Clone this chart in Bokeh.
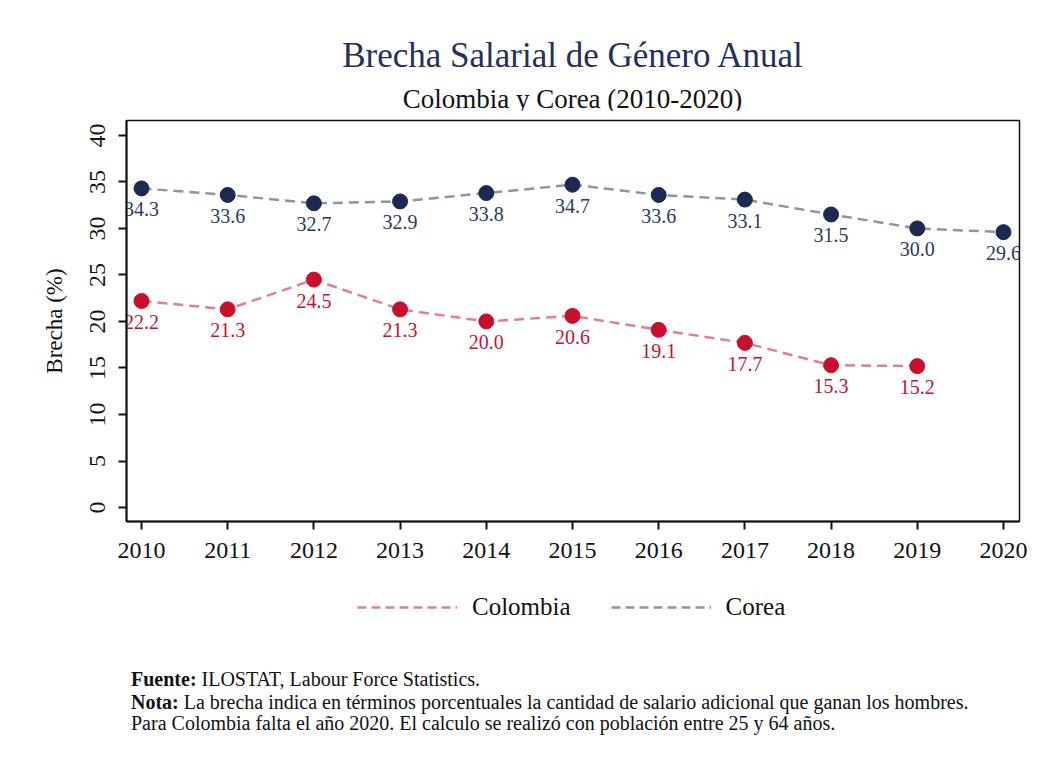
from bokeh.plotting import figure
from bokeh.models import Range1d, FixedTicker, Legend, LegendItem, ColumnDataSource, Div
from bokeh.layouts import column
from bokeh.embed import file_html
from bokeh.resources import INLINE
from bokeh.core.properties import value

# ---- data ----
years_col = [2010, 2011, 2012, 2013, 2014, 2015, 2016, 2017, 2018, 2019]
colombia = [22.2, 21.3, 24.5, 21.3, 20.0, 20.6, 19.1, 17.7, 15.3, 15.2]
years_kor = [2010, 2011, 2012, 2013, 2014, 2015, 2016, 2017, 2018, 2019, 2020]
corea = [34.3, 33.6, 32.7, 32.9, 33.8, 34.7, 33.6, 33.1, 31.5, 30.0, 29.6]
y_ticks = [0, 5, 10, 15, 20, 25, 30, 35, 40]
x_ticks = years_kor
title = "Brecha Salarial de Género Anual"
subtitle = "Colombia y Corea (2010-2020)"
fuente = "ILOSTAT, Labour Force Statistics."
nota1 = "La brecha indica en términos porcentuales la cantidad de salario adicional que ganan los hombres."
nota2 = "Para Colombia falta el año 2020. El calculo se realizó con población entre 25 y 64 años."

FONT = "Liberation Serif"
COL_MK = "#c8102e"
COL_LN = "#e27d98"
KOR_MK = "#1c2a52"
KOR_LN = "#8d94a9"
KOR_TX = "#2b3960"
DASH = "10 6"

W = 1030
HEAD_H = 110
BL, BR, BT, BB = 126, 11, 10, 56
FH = 401
H = BT + FH + BB
LEG_H = 60
X0, X1 = 2009.826, 2020.186
Y0, Y1 = -1.5, 41.6

# ---- header ----
head_html = f"""
<div style="position:relative;width:{W}px;height:{HEAD_H}px;font-family:'{FONT}';">
  <div style="position:absolute;left:{BL}px;width:{W-BL-BR}px;top:35px;line-height:42px;
              text-align:center;font-size:35px;color:#25305a;white-space:nowrap;">{title}</div>
  <div style="position:absolute;left:{BL}px;width:{W-BL-BR}px;top:83px;line-height:32px;
              text-align:center;font-size:27px;color:#111111;white-space:nowrap;">{subtitle}</div>
</div>"""
head = Div(text=head_html, width=W, height=HEAD_H, margin=(0, 0, 0, 0))

# ---- main figure ----
p = figure(width=W, height=H, output_backend="svg", toolbar_location=None,
           x_range=Range1d(X0, X1), y_range=Range1d(Y0, Y1),
           min_border_left=BL, min_border_right=BR, min_border_top=BT, min_border_bottom=BB,
           margin=(0, 0, 0, 0))
p.background_fill_color = "white"
p.border_fill_color = "white"
p.outline_line_color = "#111111"
p.outline_line_width = 1.5
p.xgrid.visible = False
p.ygrid.visible = False

src_col = ColumnDataSource(dict(x=years_col, y=colombia, t=[f"{v:.1f}" for v in colombia]))
src_kor = ColumnDataSource(dict(x=years_kor, y=corea, t=[f"{v:.1f}" for v in corea]))

p.line("x", "y", source=src_col, line_color=COL_LN, line_width=2.5, line_dash=DASH)
p.line("x", "y", source=src_kor, line_color=KOR_LN, line_width=2.5, line_dash=DASH)
p.scatter("x", "y", source=src_col, size=15, fill_color=COL_MK, line_color=COL_MK)
p.scatter("x", "y", source=src_kor, size=15, fill_color=KOR_MK, line_color=KOR_MK)

p.text("x", "y", text="t", source=src_col, text_font=value(FONT), text_font_size="20px",
       text_color=COL_MK, text_align="center", text_baseline="top", y_offset=14)
p.text("x", "y", text="t", source=src_kor, text_font=value(FONT), text_font_size="20px",
       text_color=KOR_TX, text_align="center", text_baseline="top", y_offset=14)

for ax in (p.xaxis[0], p.yaxis[0]):
    ax.axis_line_width = 2
    ax.axis_line_color = "#111111"
    ax.major_tick_line_width = 2
    ax.major_tick_line_color = "#111111"
    ax.major_tick_out = 8
    ax.major_tick_in = 0
    ax.minor_tick_line_color = None
    ax.major_label_text_font = FONT
    ax.major_label_text_font_size = "24px"
    ax.major_label_text_color = "#111111"
    ax.major_label_standoff = 13

p.xaxis.ticker = FixedTicker(ticks=x_ticks)
p.yaxis.ticker = FixedTicker(ticks=y_ticks)
p.yaxis.major_label_orientation = "vertical"
p.yaxis.axis_label = "Brecha (%)"
p.yaxis.axis_label_text_font = FONT
p.yaxis.axis_label_text_font_style = "normal"
p.yaxis.axis_label_text_font_size = "23px"
p.yaxis.axis_label_text_color = "#111111"
p.yaxis.axis_label_standoff = 21

# ---- legend figure (frame is aligned with the main frame by the column layout) ----
lg = figure(width=W, height=LEG_H, output_backend="svg", toolbar_location=None,
            x_range=Range1d(0, 1), y_range=Range1d(0, 1),
            min_border_left=BL, min_border_right=BR, min_border_top=0, min_border_bottom=0,
            margin=(0, 0, 0, 0))
lg.axis.visible = False
lg.grid.visible = False
lg.outline_line_color = None
dummy = ColumnDataSource(dict(x=[-5, -4], y=[-5, -4]))
l_col = lg.line("x", "y", source=dummy, line_color=COL_LN, line_width=2.5, line_dash="9 5")
l_kor = lg.line("x", "y", source=dummy, line_color=KOR_LN, line_width=2.5, line_dash="9 5")
legend = Legend(items=[LegendItem(label="Colombia", renderers=[l_col]),
                       LegendItem(label="Corea", renderers=[l_kor])],
                location=(357 - BL, 16), orientation="horizontal",
                glyph_width=100, glyph_height=20, label_standoff=15, spacing=40,
                padding=0, margin=0, border_line_color=None, background_fill_alpha=0,
                label_text_font=FONT, label_text_font_size="25px", label_text_color="#111111")
lg.add_layout(legend, "center")

# ---- footer ----
FOOT_H = 758 - HEAD_H - H - LEG_H - 4
ftop = HEAD_H + H + LEG_H
def line_top(center):
    return center - ftop - 12

foot_html = f"""
<div style="position:relative;width:{W}px;height:{FOOT_H}px;font-family:'{FONT}';font-size:20px;color:#111111;">
  <div style="position:absolute;left:131px;top:{line_top(679)}px;line-height:24px;white-space:nowrap;"><b>Fuente:</b> {fuente}</div>
  <div style="position:absolute;left:131px;top:{line_top(702)}px;line-height:24px;white-space:nowrap;"><b>Nota:</b> {nota1}</div>
  <div style="position:absolute;left:131px;top:{line_top(723)}px;line-height:24px;white-space:nowrap;">{nota2}</div>
</div>"""
foot = Div(text=foot_html, width=W, height=FOOT_H, margin=(0, 0, 0, 0))

layout = column(head, p, lg, foot, spacing=0)
open("out.html", "w").write(file_html(layout, INLINE))
